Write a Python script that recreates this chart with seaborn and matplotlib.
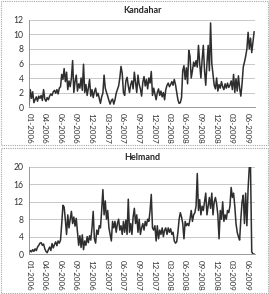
import numpy as np
import pandas as pd
import seaborn as sns
import matplotlib.pyplot as plt
import matplotlib.dates as mdates
from matplotlib.patches import Rectangle

# weekly values, Jan 2006 - Jul 2009
kandahar = [
    0.3, 2.4, 1.2, 2.1, 0.6, 1.0, 1.4, 0.8, 1.5, 1.2, 1.6, 0.9, 2.4,
    1.1, 0.8, 1.3, 1.0, 1.5, 1.8, 1.6, 2.1, 2.3, 1.9, 2.4, 1.8, 2.6,
    2.8, 4.5, 3.8, 5.3, 3.5, 4.8, 2.4, 3.6, 2.8, 4.0, 6.4,
    2.0, 3.5, 4.4, 2.2, 3.2, 2.6, 4.0, 2.3, 5.9, 2.0, 3.1, 1.6, 2.6, 3.8,
    1.5, 2.4, 1.3, 2.1, 2.6, 1.5, 1.9, 1.2, 0.5, 1.4, 1.9, 4.4,
    2.6, 2.0, 1.5, 0.9, 0.4, 0.9, 1.1, 0.4, 1.0, 1.9, 2.4, 2.9, 4.0, 5.6,
    4.6, 2.0, 1.6, 3.6, 4.1, 2.9, 2.0, 3.1, 3.6, 2.5, 4.8, 3.4, 2.0, 4.4, 3.1, 2.5, 1.5,
    3.4, 4.2, 2.9, 3.8, 2.5, 4.0, 3.3, 4.9, 1.6, 2.6, 1.8, 1.0, 2.0,
    2.5, 1.6, 2.2, 1.4, 2.0, 1.0, 2.4, 3.0, 3.3, 2.8, 3.1, 3.5, 3.0, 3.8, 3.1,
    2.0, 1.0, 0.5, 0.6, 1.3, 5.0, 5.7, 3.8, 5.4, 3.2, 7.8,
    7.0, 4.0, 5.0, 6.2, 5.6, 6.4, 5.5, 8.5, 6.0, 4.0, 6.5, 8.5, 5.0, 3.0, 6.0, 8.5, 5.0, 11.6,
    6.0, 4.5, 3.0, 2.5, 4.0, 2.2, 3.1, 2.6, 3.5, 2.8, 2.4, 3.2, 2.6, 3.3, 2.7, 3.0, 3.6, 2.4,
    4.5, 2.0, 3.9, 2.2, 4.3, 2.6, 1.5, 3.2, 5.5, 6.2, 7.0, 8.0, 10.3, 8.0, 9.5, 7.5, 9.0, 10.4,
]
helmand = [
    0.3, 0.8, 0.5, 1.0, 0.6, 1.2, 0.8, 1.6, 2.0, 2.5, 2.6, 2.0, 2.3,
    1.2, 0.6, 0.3, 1.0, 1.6, 0.8, 2.4, 1.4, 2.2, 2.8, 1.9, 3.0, 2.5,
    3.2, 7.0, 11.2, 10.8, 7.8, 4.5,
    9.0, 6.0, 8.0, 9.8, 7.0, 8.5, 6.4, 8.2,
    5.0, 2.0, 4.2, 1.5, 4.4, 1.0, 3.0, 2.0, 4.0, 2.6, 4.2, 3.2, 6.0, 9.8,
    3.5, 2.5, 5.5, 4.5, 6.5, 6.0, 10.0, 14.8, 9.0, 12.2, 8.0, 10.0, 6.0, 4.5, 3.0,
    7.5, 6.0, 7.5, 5.0, 7.0, 8.0, 5.5, 6.5, 4.5, 7.5, 5.0, 7.8, 4.5, 12.6,
    5.0, 7.0, 4.5, 8.5, 10.5, 7.0, 9.0, 5.0, 8.0, 4.5, 6.0, 7.0, 5.5, 7.5, 6.5, 8.0, 7.5, 10.0, 13.7,
    6.0, 5.5, 6.5, 3.0, 6.5, 3.5, 5.5, 4.5, 6.0, 4.0, 5.5, 6.0, 4.5, 6.0, 5.0, 5.8, 4.5, 5.0, 3.0, 2.5,
    2.8, 5.0, 8.0, 9.5, 8.5, 7.0, 3.5, 7.5, 6.5, 7.0, 6.5, 8.0,
    10.0, 7.5, 9.0, 9.5, 11.0, 18.5, 10.0, 12.5, 9.0, 11.0, 10.0, 12.0, 14.0,
    9.0, 11.0, 13.0, 10.5, 14.0, 9.0, 12.0, 13.0, 11.5, 9.0, 3.5,
    10.0, 8.0, 12.0, 7.5, 9.0, 8.0, 10.0, 9.5, 11.0, 15.3,
    13.0, 14.0, 11.0, 7.0, 5.0, 4.0, 3.2, 8.0, 12.0, 13.5, 7.0, 14.0, 6.5, 15.0, 20.0, 20.0, 0.5, 0.0, 0.0,
]
dates = pd.date_range("2006-01-01", periods=len(kandahar), freq="7D")
tick_dates = pd.date_range("2006-01-01", periods=15, freq="90D")

sns.set_style("white")
plt.rcParams["font.family"] = ["Lato", "DejaVu Sans"]

fig = plt.figure(figsize=(2.69, 2.94), dpi=100)
# chart area borders
fig.patches.append(Rectangle((0.002, 0.508), 0.994, 0.49, transform=fig.transFigure,
                             fill=False, edgecolor="#a6a6a6", linewidth=0.8, linestyle=(0, (1, 1))))
fig.patches.append(Rectangle((0.002, 0.002), 0.994, 0.494, transform=fig.transFigure,
                             fill=False, edgecolor="#a6a6a6", linewidth=0.8, linestyle=(0, (1, 1))))

panels = [
    ("Kandahar", kandahar, [0.108, 0.636, 0.840, 0.296], 12, 2),
    ("Helmand", helmand, [0.108, 0.136, 0.840, 0.296], 20, 4),
]

for title, vals, pos, ymax, step in panels:
    ax = fig.add_axes(pos)
    df = pd.DataFrame({"date": dates, "value": vals})
    sns.lineplot(data=df, x="date", y="value", ax=ax, color="#2e2e2e", linewidth=1.1)
    ax.set_xlim(pd.Timestamp("2006-01-01"), pd.Timestamp("2009-07-31"))
    ax.set_ylim(0, ymax)
    ax.set_yticks(np.arange(0, ymax + 1, step))
    ax.set_xticks(tick_dates)
    ax.xaxis.set_major_formatter(mdates.DateFormatter("%m-%Y"))
    ax.tick_params(axis="x", labelrotation=270, labelsize=5.8, length=2.5, width=0.6,
                   color="#888888", pad=1.5, labelcolor="#333333")
    ax.tick_params(axis="y", labelsize=6.2, length=2.5, width=0.6, color="#888888", pad=1.5,
                   labelcolor="#333333")
    ax.grid(axis="y", color="#bfbfbf", linewidth=0.6)
    for s in ["top", "right"]:
        ax.spines[s].set_visible(False)
    for s in ["left", "bottom"]:
        ax.spines[s].set_color("#888888")
        ax.spines[s].set_linewidth(0.6)
    ax.set_xlabel("")
    ax.set_ylabel("")
    ax.set_title(title, fontsize=6.5, fontweight="bold", pad=5)

fig.savefig("out.png", dpi=100)
